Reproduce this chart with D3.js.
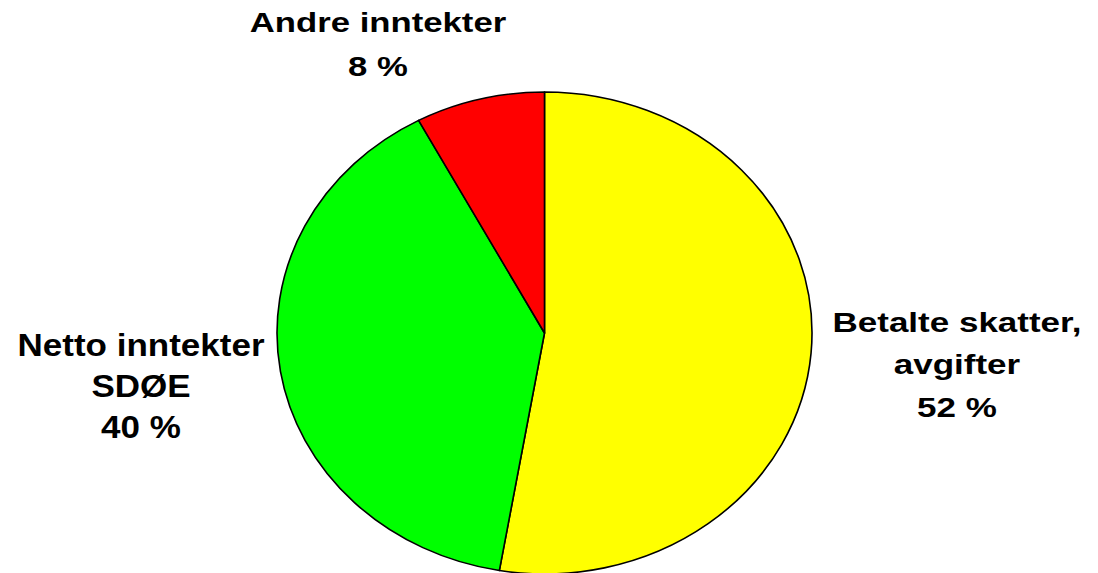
<!DOCTYPE html>
<html>
<head>
<meta charset="utf-8">
<script src="https://cdn.jsdelivr.net/npm/d3@7"></script>
<style>
  html, body { margin: 0; padding: 0; background: #fff; }
  svg { display: block; }
  text { font-family: "Liberation Sans", Arial, sans-serif; font-weight: bold; fill: #000; }
</style>
</head>
<body>
<div id="chart"><svg></svg></div>
<script>
// slice shares (clockwise from 12 o'clock)
const categories = ["Betalte skatter, avgifter", "Netto inntekter SDØE", "Andre inntekter"];
const shares = [52.7, 39.5, 7.8];
const printedPct = [52, 40, 8];
const labelLines = [
  ["Betalte skatter,", "avgifter"],
  ["Netto inntekter", "SDØE"],
  ["Andre inntekter"]
];
const colors = ["#ffff00", "#00ff00", "#ff0000"];

const width = 1098, height = 573;
const cx = 544.5, cy = 333;
const ry = 241, rx = 267.5;

const svg = d3.select("#chart > svg")
  .attr("width", width)
  .attr("height", height);

const pie = d3.pie().sort(null).value(d => d.value);
const arc = d3.arc().innerRadius(0).outerRadius(ry);

const data = shares.map((v, i) => ({ name: categories[i], value: v, color: colors[i] }));

// circle squashed into an ellipse, stroke kept even
const g = svg.append("g")
  .attr("transform", `translate(${cx}, ${cy}) scale(${rx / ry}, 1)`);

g.selectAll("path")
  .data(pie(data))
  .join("path")
  .attr("d", arc)
  .attr("fill", d => d.data.color)
  .attr("stroke", "#000")
  .attr("stroke-width", 1.6)
  .attr("stroke-linejoin", "round")
  .attr("vector-effect", "non-scaling-stroke");

// label placement, by hand like the original
const labelPos = [
  { x: 957, y: 332, size: 28, sx: 1.25, lh: 42.5 },
  { x: 141, y: 356, size: 31, sx: 1.13, lh: 41 },
  { x: 378, y: 32, size: 28, sx: 1.24, lh: 44 }
];

labelLines.forEach((lines, i) => {
  const p = labelPos[i];
  const t = svg.append("text")
    .attr("transform", `translate(${p.x}, ${p.y}) scale(${p.sx}, 1)`)
    .attr("text-anchor", "middle")
    .style("font-size", p.size + "px");
  lines.concat([printedPct[i] + " %"]).forEach((s, j) => {
    t.append("tspan")
      .attr("x", 0)
      .attr("y", j * p.lh)
      .text(s);
  });
});
</script>
</body>
</html>
